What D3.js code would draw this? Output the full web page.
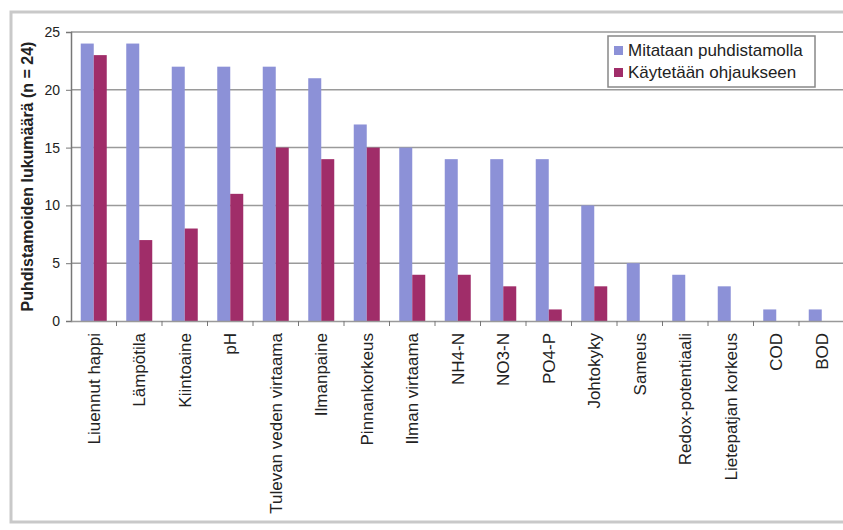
<!DOCTYPE html>
<html>
<head>
<meta charset="utf-8">
<script src="https://cdn.jsdelivr.net/npm/d3@7"></script>
<style>
  body { margin: 0; background: #fff; }
  svg { display: block; font-family: Arial, "Liberation Sans", sans-serif; }
</style>
</head>
<body>
<svg id="chart" width="843" height="530"></svg>
<script>
const categories = ["Liuennut happi", "Lämpötila", "Kiintoaine", "pH", "Tulevan veden virtaama",
  "Ilmanpaine", "Pinnankorkeus", "Ilman virtaama", "NH4-N", "NO3-N", "PO4-P", "Johtokyky",
  "Sameus", "Redox-potentiaali", "Lietepatjan korkeus", "COD", "BOD"];
const seriesNames = ["Mitataan puhdistamolla", "Käytetään ohjaukseen"];
const measured = [24, 24, 22, 22, 22, 21, 17, 15, 14, 14, 14, 10, 5, 4, 3, 1, 1];
const used = [23, 7, 8, 11, 15, 14, 15, 4, 4, 3, 1, 3, 0, 0, 0, 0, 0];
const yTicks = [0, 5, 10, 15, 20, 25];
const colors = ["#8c91d7", "#a02d69"];

const svg = d3.select("#chart");

// outer frame
svg.append("rect")
  .attr("x", 11).attr("y", 12)
  .attr("width", 850).attr("height", 510)
  .attr("fill", "#fff")
  .attr("stroke", "#c9c9c9")
  .attr("stroke-width", 3);

const plotLeft = 71, plotTop = 32, plotBottom = 321, bandW = 45.5;

const xScale = d3.scaleBand()
  .domain(categories)
  .range([plotLeft, plotLeft + categories.length * bandW])
  .padding(0);

const xSub = d3.scaleBand()
  .domain(seriesNames)
  .range([xScale.bandwidth() / 2 - 13, xScale.bandwidth() / 2 + 13]);

const yScale = d3.scaleLinear()
  .domain([0, 25])
  .range([plotBottom, plotTop]);

// gridlines
svg.append("g")
  .selectAll("line")
  .data(yTicks.filter(d => d > 0))
  .enter()
  .append("line")
  .attr("x1", plotLeft).attr("x2", 843)
  .attr("y1", d => yScale(d)).attr("y2", d => yScale(d))
  .attr("stroke", "#9a9a9a")
  .attr("stroke-width", 1.5);

// bars
const rows = categories.map((c, i) => ({ label: c, values: [measured[i], used[i]] }));

const groups = svg.append("g")
  .selectAll("g")
  .data(rows)
  .enter()
  .append("g")
  .attr("transform", d => `translate(${xScale(d.label)},0)`);

groups.selectAll("rect")
  .data(d => d.values.map((v, k) => ({ name: seriesNames[k], value: v, k: k })))
  .enter()
  .append("rect")
  .attr("x", d => xSub(d.name))
  .attr("y", d => yScale(d.value))
  .attr("width", xSub.bandwidth())
  .attr("height", d => plotBottom - yScale(d.value))
  .attr("fill", d => colors[d.k]);

// y axis
const yAxis = svg.append("g")
  .attr("transform", `translate(${plotLeft},0)`)
  .call(d3.axisLeft(yScale).tickValues(yTicks).tickSize(5).tickPadding(6));
yAxis.select(".domain").attr("stroke", "#777").attr("stroke-width", 1.5);
yAxis.selectAll(".tick line").attr("stroke", "#777");
yAxis.selectAll("text")
  .style("font-size", "14px")
  .attr("fill", "#222");

// x axis
const xAxis = svg.append("g")
  .attr("transform", `translate(0,${plotBottom})`)
  .call(d3.axisBottom(xScale).tickSize(0).tickPadding(0));
xAxis.select(".domain").attr("stroke", "#999").attr("stroke-width", 1.5);
xAxis.selectAll("text")
  .attr("transform", "rotate(-90)")
  .attr("text-anchor", "end")
  .attr("x", -12)
  .attr("y", 0)
  .attr("dy", "0.35em")
  .style("font-size", "17px")
  .attr("fill", "#222");

// tick marks between categories
svg.append("g")
  .selectAll("line")
  .data(categories.slice(1))
  .enter()
  .append("line")
  .attr("x1", d => xScale(d)).attr("x2", d => xScale(d))
  .attr("y1", plotBottom).attr("y2", plotBottom + 5)
  .attr("stroke", "#777");

// y axis title
svg.append("text")
  .attr("transform", `translate(33,${(plotTop + plotBottom) / 2}) rotate(-90)`)
  .attr("text-anchor", "middle")
  .style("font-size", "16px")
  .style("font-weight", "bold")
  .attr("fill", "#222")
  .text("Puhdistamoiden lukumäärä (n = 24)");

// legend
const legend = svg.append("g").attr("transform", "translate(608,36)");
legend.append("rect")
  .attr("width", 207).attr("height", 51)
  .attr("fill", "#fff")
  .attr("stroke", "#888")
  .attr("stroke-width", 1.5);

seriesNames.forEach((name, i) => {
  const g = legend.append("g").attr("transform", `translate(6,${10 + i * 22})`);
  g.append("rect").attr("width", 9).attr("height", 9).attr("fill", colors[i]);
  g.append("text")
    .attr("x", 14).attr("y", 10)
    .style("font-size", "17px")
    .attr("fill", "#222")
    .text(name);
});
</script>
</body>
</html>
